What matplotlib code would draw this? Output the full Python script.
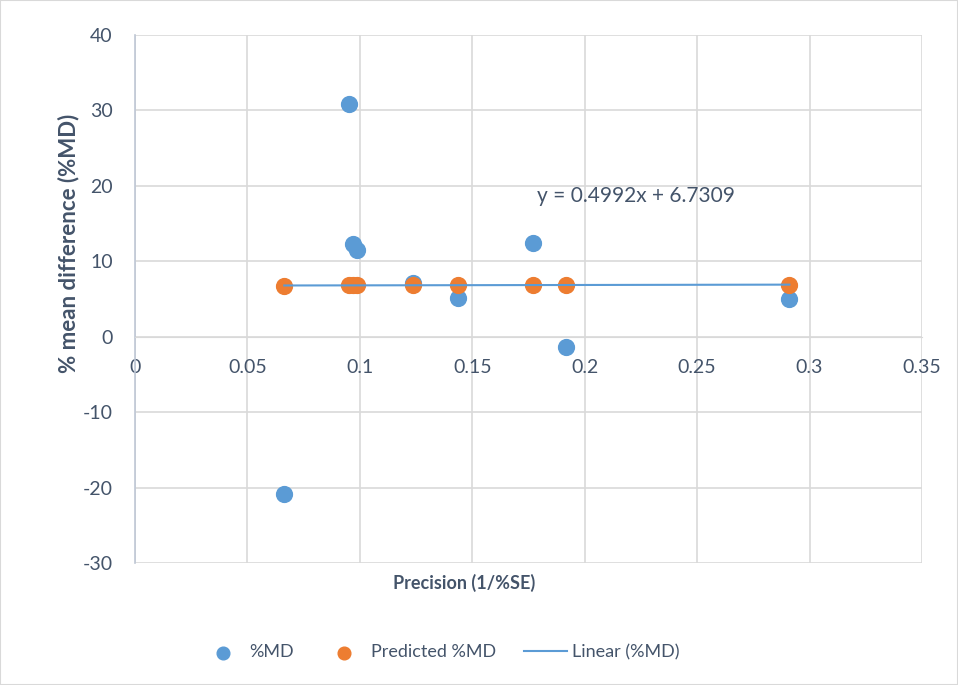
import numpy as np
import matplotlib.pyplot as plt
from matplotlib.patches import Rectangle

# 读取图中的数据点
precision = [0.0664, 0.0950, 0.0971, 0.0987, 0.1236, 0.1436, 0.1768, 0.1916, 0.2910]
md = [-20.9, 30.8, 12.2, 11.4, 7.05, 5.14, 12.4, -1.35, 4.93]
predicted = [6.76, 6.78, 6.78, 6.78, 6.79, 6.80, 6.82, 6.83, 6.88]
slope = 0.4992
intercept = 6.7309
xticks = [0, 0.05, 0.1, 0.15, 0.2, 0.25, 0.3, 0.35]
yticks = [-30, -20, -10, 0, 10, 20, 30, 40]

plt.rcParams["font.family"] = ["Lato", "DejaVu Sans"]
plt.rcParams["axes.unicode_minus"] = False
blue = "#5B9BD5"
orange = "#ED7D31"
txt = "#44546A"
grid = "#D9D9D9"

fig = plt.figure(figsize=(9.58, 6.85), dpi=100)
fig.patches.append(Rectangle((0, 0), 1, 1, transform=fig.transFigure,
                             fill=False, edgecolor=grid, linewidth=1.5))
ax = fig.add_axes([0.1409, 0.178, 0.9624 - 0.1409, 0.9496 - 0.178])

ax.scatter(precision, md, s=130, color=blue, zorder=3, label="%MD")
ax.scatter(precision, predicted, s=130, color=orange, zorder=4, label="Predicted %MD")
xs = np.array([min(precision), max(precision)])
ax.plot(xs, slope * xs + intercept, color=blue, linewidth=1.5, zorder=5, label="Linear (%MD)")

ax.set_xlim(0, 0.35)
ax.set_ylim(-30, 40)
ax.set_xticks(xticks)
ax.set_xticklabels([("%g" % t) for t in xticks])
ax.set_yticks(yticks)
ax.grid(True, color=grid, linewidth=1.2, zorder=0)
ax.set_axisbelow(True)

for s in ["top", "right"]:
    ax.spines[s].set_visible(False)
ax.spines["bottom"].set_position(("data", 0))
ax.spines["bottom"].set_color(grid)
ax.spines["left"].set_color("#BFC7D5")
ax.spines["left"].set_linewidth(1.2)
ax.tick_params(length=0, labelsize=14, labelcolor=txt)
ax.tick_params(axis="x", pad=16)
ax.tick_params(axis="y", pad=16)

# 轴标题（位置按原图偏移）
ax.text(-0.0839, 0.605, "% mean difference (%MD)", transform=ax.transAxes, rotation=90,
        ha="center", va="center", fontsize=16, fontweight="bold", color=txt)
ax.text(0.418, -0.038, "Precision (1/%SE)", transform=ax.transAxes, ha="center", va="center",
        fontsize=13, fontweight="bold", color=txt)
ax.text(0.179, 18.6, "y = 0.4992x + 6.7309", fontsize=15, color=txt, va="center")

ax.legend(loc="center", bbox_to_anchor=(0.388, -0.1686), ncol=3, frameon=False,
          fontsize=13, labelcolor=txt, handlelength=2.4, handletextpad=0.28,
          columnspacing=1.55, markerscale=0.8)

plt.savefig("out.png", dpi=100)
